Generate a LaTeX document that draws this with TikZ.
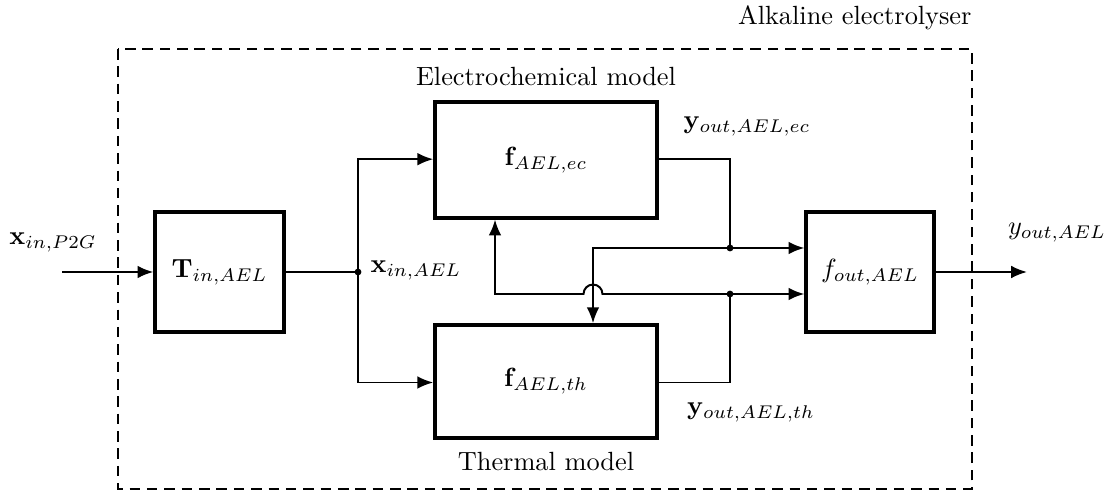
\documentclass[tikz,border=0pt]{standalone}
\usetikzlibrary{arrows.meta,calc}
\tikzset{
  blk/.style={draw, line width=1.3pt, rectangle, inner sep=0pt},
  conn/.style={line width=0.75pt},
  arr/.style={conn, -{Latex[length=6pt,width=4.8pt]}},
  jdot/.style={circle, fill, inner sep=0pt, minimum size=2.6pt},
  lbl/.style={inner sep=0pt},
}
\begin{document}
\begin{tikzpicture}[x=0.38pt,y=0.38pt]
\useasboundingbox (0,0) rectangle (1114,-492);
% dashed enclosure
\draw[line width=0.75pt, dash pattern=on 4pt off 2.6pt] (118,-49) rectangle (972,-489);
\node[lbl, anchor=east] (title) at (972,-18) {Alkaline electrolyser};

% blocks
\node[blk, minimum width=49pt, minimum height=45.6pt] (T) at (219.5,-272) {$\mathbf{T}_{in,AEL}$};
\node[blk, minimum width=84.4pt, minimum height=44pt] (ec) at (546,-160) {$\mathbf{f}_{AEL,ec}$};
\node[blk, minimum width=84.4pt, minimum height=43pt] (th) at (546,-381.5) {$\mathbf{f}_{AEL,th}$};
\node[blk, minimum width=48.6pt, minimum height=45.6pt] (fo) at (870,-272) {$f_{out,AEL}$};

\node[lbl] (ecl) at (546,-77) {Electrochemical model};
\node[lbl] (thl) at (546,-462) {Thermal model};

% coordinates
\coordinate (in) at (62,-272);
\coordinate (out) at (1027,-272);
\coordinate (j) at (358,-272);
\coordinate (d1) at (730,-248);
\coordinate (d2) at (730,-294);
\coordinate (k1) at (593,-248);
\coordinate (k2) at (495,-294);

% input / output
\draw[arr] (in) -- (T.west);
\draw[arr] (fo.east) -- (out);
\node[lbl] (xin) at (53,-242) {$\mathbf{x}_{in,P2G}$};
\node[lbl] (yout) at (1057,-233) {$y_{out,AEL}$};

% split
\draw[conn] (T.east) -- (j);
\node[jdot] (jd) at (j) {};
\draw[arr] (j) |- ($(ec.west)+(0,0.8)$);
\draw[arr] (j) |- ($(th.west)+(0,-1)$);
\node[lbl, anchor=west] (xael) at (370,-270) {$\mathbf{x}_{in,AEL}$};

% ec output
\draw[arr] ($(ec.east)+(0,0.8)$) -| (d1) -- (d1 -| fo.west);
\node[jdot] (d1d) at (d1) {};
\draw[arr] (d1) -- (k1) -- (k1 |- th.north);
\node[lbl] (yec) at (747,-126) {$\mathbf{y}_{out,AEL,ec}$};

% th output
\draw[arr] ($(th.east)+(0,-1)$) -| (d2) -- (d2 -| fo.west);
\node[jdot] (d2d) at (d2) {};
\draw[arr] (d2) -- ($(k1 |- d2)+(3.6pt,0)$) arc[start angle=0, end angle=180, radius=3.6pt] -- (k2) -- (k2 |- ec.south);
\node[lbl] (yth) at (751,-412) {$\mathbf{y}_{out,AEL,th}$};
\end{tikzpicture}
\end{document}
